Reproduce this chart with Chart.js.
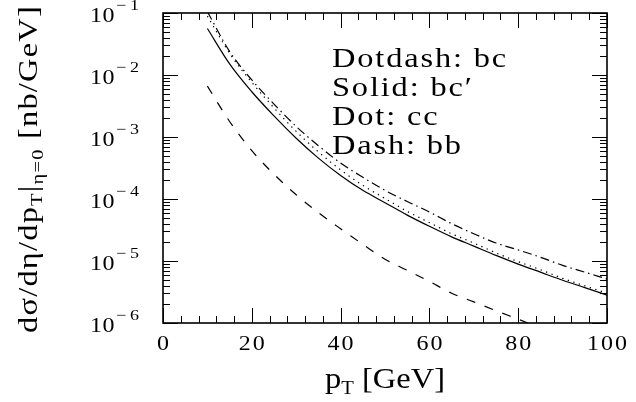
<!DOCTYPE html>
<html lang="en">
<head>
<meta charset="UTF-8">
<title>dsigma/deta/dpT</title>
<script src="https://cdn.jsdelivr.net/npm/chart.js"></script>
<style>
    body { margin: 0; background: #fff; }
    #wrap { width: 636px; height: 402px; }
</style>
</head>
<body>
<div id="wrap"><canvas id="chart" width="636" height="402"></canvas></div>
<script>
    // pT grid (GeV) and the four curves
    const ptValues = [10, 15, 20, 25, 30, 35, 40, 45, 50, 55, 60, 65, 70, 75, 80, 85, 90, 95, 100];

    // Dotdash: bc
    const bcValues = [1.05e-1, 2.40e-2, 8.32e-3, 3.39e-3, 1.48e-3, 7.24e-4, 3.80e-4, 2.24e-4, 1.38e-4, 9.12e-5,
        6.17e-5, 4.00e-5, 2.75e-5, 1.95e-5, 1.51e-5, 1.15e-5, 8.51e-6, 6.61e-6, 5.13e-6];
    // Solid: bc'
    const bcPrimeValues = [5.62e-2, 1.51e-2, 5.37e-3, 2.19e-3, 9.55e-4, 4.57e-4, 2.40e-4, 1.38e-4, 8.71e-5, 5.50e-5,
        3.63e-5, 2.45e-5, 1.74e-5, 1.23e-5, 8.91e-6, 6.61e-6, 4.90e-6, 3.72e-6, 2.82e-6];
    // Dot: cc
    const ccValues = [8.91e-2, 2.24e-2, 7.59e-3, 2.95e-3, 1.23e-3, 5.75e-4, 2.95e-4, 1.66e-4, 1.02e-4, 6.31e-5,
        4.17e-5, 2.75e-5, 1.95e-5, 1.35e-5, 9.77e-6, 7.24e-6, 5.25e-6, 3.98e-6, 3.02e-6];
    // Dash: bb (runs out below 1e-6 after ~80 GeV)
    const bbValues = [6.61e-3, 1.78e-3, 6.03e-4, 2.51e-4, 1.17e-4, 6.03e-5, 3.31e-5, 1.86e-5, 1.07e-5, 7.08e-6,
        4.68e-6, 3.02e-6, 2.19e-6, 1.58e-6, 1.15e-6, 8.32e-7];

    const xTickLabels = [0, 20, 40, 60, 80, 100];
    const yTickPowers = [-1, -2, -3, -4, -5, -6];
    const legendLines = ['Dotdash: bc', 'Solid: bc\u2032', 'Dot: cc', 'Dash: bb'];

    const SERIF = '"Liberation Serif", "DejaVu Serif", "Noto Serif", serif';

    function toPoints(values) {
        return values.map((v, i) => ({ x: ptValues[i], y: v }));
    }

    // widen a run of text to a target width: part stretch, part letter spacing
    // (the original uses a wide TeX-style face)
    function fitFor(ctx, segs, target) {
        let w = 0, n = 0;
        segs.forEach(s => {
            ctx.font = s.size + 'px ' + SERIF;
            ctx.letterSpacing = '0px';
            w += ctx.measureText(s.str).width;
            n += s.str.length;
        });
        const sx = Math.min(target / w, 1.2);
        return { sx, sp: (target / sx - w) / n };
    }

    function drawSegs(ctx, segs, x, y, target, fit) {
        const f = fit || fitFor(ctx, segs, target);
        ctx.save();
        ctx.translate(x, y);
        ctx.scale(f.sx, 1);
        ctx.textAlign = 'left';
        let cx = 0;
        segs.forEach(s => {
            ctx.font = s.size + 'px ' + SERIF;
            ctx.letterSpacing = f.sp + 'px';
            ctx.fillText(s.str, cx, s.dy || 0);
            cx += ctx.measureText(s.str).width;
        });
        ctx.restore();
    }

    // frame, inward ticks and all the labels
    const framePlugin = {
        id: 'frame',
        afterDatasetsDraw(chart) {
            const { ctx, chartArea: a, scales: { x, y } } = chart;
            ctx.save();
            ctx.strokeStyle = '#000';
            ctx.fillStyle = '#000';

            ctx.lineWidth = 1;
            ctx.beginPath();
            for (let v = 0; v <= 100; v += 4) {
                const px = Math.round(x.getPixelForValue(v)) + 0.5;
                const len = v % 20 === 0 ? 15 : 7;
                ctx.moveTo(px, a.bottom); ctx.lineTo(px, a.bottom - len);
                ctx.moveTo(px, a.top); ctx.lineTo(px, a.top + len);
            }
            for (let p = -6; p <= -1; p++) {
                for (let m = 1; m <= 9; m++) {
                    if (p === -1 && m > 1) break;
                    const py = Math.round(y.getPixelForValue(m * Math.pow(10, p))) + 0.5;
                    const len = m === 1 ? 15 : 7;
                    ctx.moveTo(a.left, py); ctx.lineTo(a.left + len, py);
                    ctx.moveTo(a.right, py); ctx.lineTo(a.right - len, py);
                }
            }
            ctx.stroke();

            ctx.lineWidth = 1.6;
            ctx.strokeRect(a.left, a.top, a.right - a.left, a.bottom - a.top);

            ctx.textBaseline = 'alphabetic';

            // x tick labels, ~14 px per digit
            xTickLabels.forEach(v => {
                const s = String(v);
                const w = 14 * s.length;
                drawSegs(ctx, [{ str: s, size: 20 }], x.getPixelForValue(v) - w / 2 + 1, 350, w);
            });

            // y tick labels 10^-n
            yTickPowers.forEach(p => {
                const py = y.getPixelForValue(Math.pow(10, p));
                drawSegs(ctx, [{ str: '10', size: 20 }], 90, py + 8.5, 25);
                drawSegs(ctx, [{ str: '\u2212' + (-p), size: 15 }], 116, py - 3, 27);
            });

            // x title: p_T [GeV]
            drawSegs(ctx, [
                { str: 'p', size: 30 },
                { str: 'T', size: 19, dy: 6 },
                { str: ' [GeV]', size: 30 }
            ], 325, 388, 120);

            // y title, rotated
            ctx.save();
            ctx.translate(37, 333);
            ctx.rotate(-Math.PI / 2);
            drawSegs(ctx, [
                { str: 'd\u03c3/d\u03b7/dp', size: 27 },
                { str: 'T', size: 17, dy: 5 },
                { str: '|', size: 27 },
                { str: '\u03b7=0', size: 17, dy: 6 },
                { str: ' [nb/GeV]', size: 27 }
            ], 0, 0, 328);
            ctx.restore();

            // legend text, all lines share the fit of the first one
            const legendFit = fitFor(ctx, [{ str: legendLines[0], size: 27 }], 176);
            legendLines.forEach((s, i) => {
                drawSegs(ctx, [{ str: s, size: 27 }], 332, 67 + i * 29, 0, legendFit);
            });

            ctx.restore();
        }
    };

    const lineStyle = { borderColor: '#000', borderWidth: 1.2, pointRadius: 0, fill: false, cubicInterpolationMode: 'monotone' };

    new Chart(document.getElementById('chart'), {
        type: 'line',
        data: {
            datasets: [
                { ...lineStyle, label: 'bc', data: toPoints(bcValues), borderDash: [9, 4, 1.5, 4] },
                { ...lineStyle, label: "bc'", data: toPoints(bcPrimeValues) },
                { ...lineStyle, label: 'cc', data: toPoints(ccValues), borderDash: [1.3, 4.5] },
                { ...lineStyle, label: 'bb', data: toPoints(bbValues), borderDash: [9, 10] }
            ]
        },
        options: {
            responsive: false,
            animation: false,
            layout: { padding: { left: 163, right: 29, top: 13, bottom: 79 } },
            plugins: { legend: { display: false }, tooltip: { enabled: false } },
            scales: {
                x: { type: 'linear', min: 0, max: 100, display: false },
                y: { type: 'logarithmic', min: 1e-6, max: 1e-1, display: false }
            }
        },
        plugins: [framePlugin]
    });
</script>
</body>
</html>
